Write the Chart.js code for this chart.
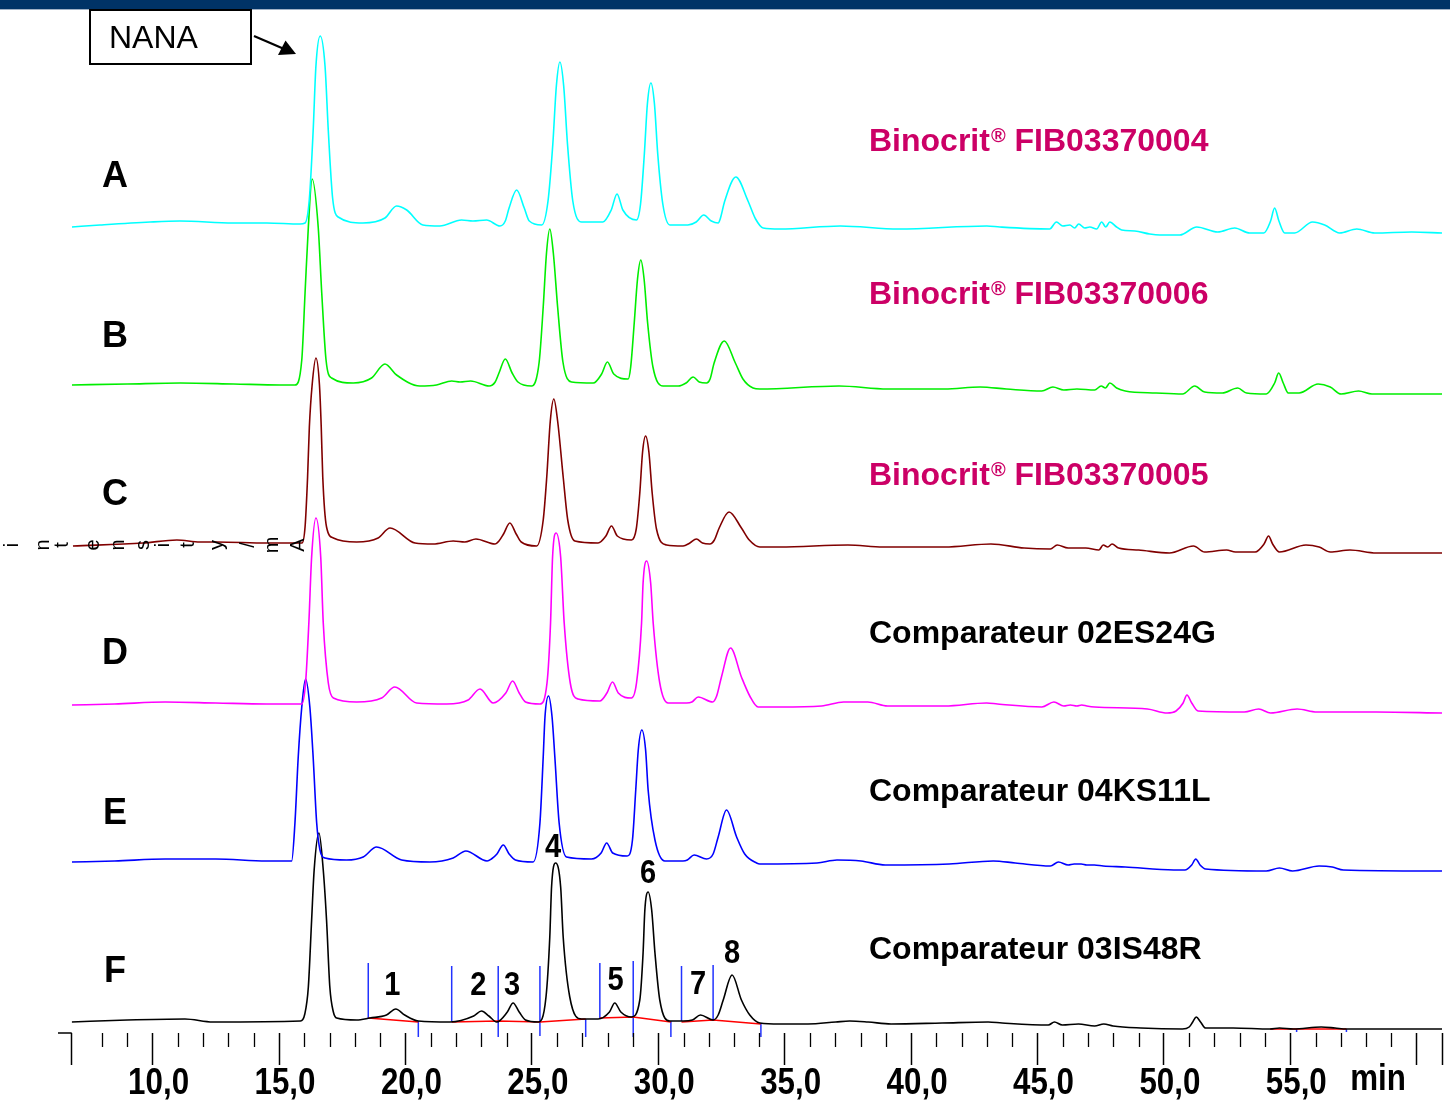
<!DOCTYPE html>
<html>
<head>
<meta charset="utf-8">
<script src="https://cdn.jsdelivr.net/npm/chart.js@4.4.1/dist/chart.umd.min.js"></script>
<style>
  html, body { margin: 0; padding: 0; background: #fff; }
  canvas { display: block; }
</style>
</head>
<body>
<canvas id="chroma" width="1450" height="1110"></canvas>
<script>
// retention time (min), signal above the trace's own baseline
const traceA = [[6.81,-1],[7.92,1],[9.90,4],[11.08,5],[13.18,3],[14.52,3],[15.83,2],[16.03,3],[16.20,27],[16.35,95],[16.46,160],[16.63,190],[16.82,160],[16.95,95],[17.12,28],[17.34,9],[18.32,3],[19.19,8],[19.65,20],[20.05,16],[20.69,1],[21.36,0],[22.22,6],[22.67,5],[23.21,6],[23.74,0],[23.95,5],[24.10,18],[24.40,36],[24.70,18],[24.90,5],[25.39,1],[25.64,25],[25.83,82],[25.97,140],[26.11,164],[26.26,140],[26.41,82],[26.62,25],[26.97,4],[27.81,4],[28.14,16],[28.37,32],[28.60,16],[29.14,6],[29.30,22],[29.45,72],[29.57,122],[29.71,143],[29.85,122],[29.98,72],[30.18,22],[30.46,1],[31.17,1],[31.50,4],[31.80,11],[32.10,5],[32.37,3],[32.45,7],[32.63,25],[33.07,49],[33.55,25],[33.85,7],[34.15,-2],[34.81,-3],[37.2,0],[39.5,-3],[43.0,0],[43.51,-1],[45.48,-3],[45.75,4],[46.00,0],[46.28,1],[46.47,-2],[46.63,2],[46.87,-2],[47.07,-1],[47.34,-3],[47.54,4],[47.70,-1],[47.86,4],[48.13,-1],[48.33,-4],[48.85,-5],[49.44,-8],[49.84,-9],[50.63,-9],[51.30,-1],[52.13,-6],[52.80,-2],[53.39,-7],[53.95,-7],[54.22,5],[54.38,18],[54.55,5],[54.78,-7],[55.17,-7],[55.88,4],[56.36,1],[56.95,-7],[57.63,-3],[58.34,-7],[59.80,-6],[61.0,-7]];

const traceB = [[6.81,1],[9.0,2],[11.1,3],[13.2,2],[15.04,1],[15.63,1],[15.90,26],[16.03,93],[16.16,159],[16.31,207],[16.55,159],[16.69,93],[16.86,26],[17.08,8],[17.94,3],[18.66,8],[19.19,22],[19.65,11],[20.57,0],[21.23,1],[21.83,5],[22.16,4],[22.58,5],[23.31,0],[23.55,4],[23.70,13],[23.95,27],[24.22,13],[24.45,4],[24.99,0],[25.29,24],[25.45,79],[25.58,133],[25.71,157],[25.85,133],[26.02,79],[26.23,24],[26.57,4],[27.43,3],[27.76,12],[27.99,24],[28.24,12],[28.81,7],[28.91,19],[29.05,63],[29.18,107],[29.31,126],[29.44,107],[29.58,63],[29.79,19],[30.19,0],[30.79,0],[31.10,3],[31.38,9],[31.62,4],[31.91,3],[32.05,7],[32.21,23],[32.61,45],[33.05,23],[33.35,7],[33.75,-2],[34.02,-3],[37.15,0],[39.07,-3],[41.33,-3],[42.73,-1],[43.77,-3],[45.17,-5],[45.61,-1],[46.04,-4],[46.56,-3],[47.26,-4],[47.52,0],[47.69,-2],[47.86,3],[48.13,-2],[48.47,-5],[49.69,-7],[50.74,-8],[51.22,0],[51.61,-6],[52.31,-7],[52.92,-2],[53.27,-7],[54.05,-8],[54.38,3],[54.54,13],[54.72,3],[54.92,-7],[55.35,-7],[56.10,2],[56.58,-1],[57.01,-8],[57.70,-5],[58.23,-8],[61.0,-8]];

const traceC = [[6.85,-1],[9.62,2],[10.96,5],[11.87,3],[12.55,3],[14.52,2],[15.91,2],[16.03,18],[16.13,68],[16.20,118],[16.31,160],[16.46,187],[16.60,160],[16.67,118],[16.73,68],[16.88,18],[17.15,7],[18.07,3],[18.92,7],[19.39,17],[20.38,2],[21.10,1],[21.89,4],[22.35,3],[22.79,6],[23.54,1],[23.70,4],[23.88,11],[24.13,22],[24.38,11],[24.58,3],[25.19,-1],[25.45,25],[25.59,68],[25.73,124],[25.87,146],[26.02,124],[26.24,68],[26.42,25],[26.70,4],[27.62,2],[27.93,9],[28.15,19],[28.38,9],[28.94,5],[29.13,16],[29.27,52],[29.38,93],[29.50,109],[29.63,93],[29.76,52],[29.93,16],[30.33,0],[30.98,-1],[31.25,2],[31.51,6],[31.75,2],[32.04,1],[32.22,5],[32.41,17],[32.80,33],[33.29,17],[33.60,5],[34.02,-2],[34.81,-2],[37.50,0],[38.89,-2],[41.33,-2],[43.16,1],[44.47,-3],[45.51,-4],[45.78,0],[46.21,-3],[46.91,-3],[47.43,-5],[47.60,0],[47.78,-2],[47.95,1],[48.21,-3],[49.00,-5],[50.22,-8],[51.17,-1],[51.61,-7],[52.48,-5],[52.83,-7],[53.61,-7],[53.96,1],[54.14,9],[54.30,1],[54.57,-7],[55.62,0],[56.14,-2],[56.58,-7],[57.36,-5],[58.40,-8],[61.0,-8]];

const traceD = [[6.81,0],[8.5,1],[10.5,3],[12.5,2],[14.5,1],[15.90,1],[16.05,22],[16.18,82],[16.29,148],[16.46,187],[16.65,148],[16.75,82],[16.95,22],[17.15,7],[18.07,3],[19.06,7],[19.58,18],[20.44,2],[21.63,1],[22.48,5],[22.95,16],[23.47,2],[23.97,12],[24.24,24],[24.50,12],[24.75,3],[25.32,1],[25.60,22],[25.74,82],[25.82,148],[25.96,172],[26.14,148],[26.28,82],[26.52,22],[26.83,6],[27.69,4],[27.97,12],[28.19,23],[28.42,12],[28.94,7],[29.14,22],[29.34,82],[29.40,122],[29.54,144],[29.70,122],[29.80,82],[30.06,22],[30.39,2],[31.12,2],[31.33,3],[31.58,8],[32.15,3],[32.31,9],[32.50,28],[32.86,57],[33.29,28],[33.62,9],[33.95,-2],[34.81,-2],[36.46,-1],[37.33,3],[38.29,3],[39.07,-1],[41.33,-1],[42.99,2],[43.42,1],[45.17,-2],[45.65,3],[46.04,-1],[46.30,0],[46.56,-1],[46.75,0],[46.95,-1],[47.26,-2],[49.35,-4],[50.13,-8],[50.48,-6],[50.76,2],[50.91,10],[51.10,2],[51.35,-6],[53.18,-7],[53.75,-4],[54.22,-8],[55.27,-4],[56.05,-7],[58.40,-7],[61.0,-8]];

const traceE = [[6.81,0],[8.5,1],[10.5,3],[12.5,3],[14.5,1],[15.50,1],[15.63,39],[15.76,105],[15.90,155],[16.05,183],[16.22,155],[16.35,105],[16.49,39],[16.62,12],[16.82,4],[17.67,2],[18.33,5],[18.86,15],[19.85,2],[20.97,0],[21.89,4],[22.39,11],[23.23,1],[23.40,3],[23.62,8],[23.87,17],[24.10,8],[24.35,2],[25.05,0],[25.32,39],[25.45,105],[25.52,145],[25.66,166],[25.80,145],[25.91,105],[26.08,39],[26.37,5],[27.36,3],[27.74,9],[27.96,19],[28.20,9],[28.77,6],[28.98,22],[29.11,72],[29.21,112],[29.35,132],[29.50,112],[29.60,72],[29.87,22],[30.26,1],[30.98,1],[31.15,2],[31.42,7],[31.91,3],[32.17,8],[32.37,25],[32.70,52],[33.10,25],[33.42,8],[33.89,-1],[34.02,-2],[36.28,-1],[37.07,2],[38.02,1],[38.98,-3],[41.51,-2],[43.25,1],[44.12,-1],[45.51,-4],[45.83,0],[46.21,-3],[46.45,-2],[46.73,-2],[46.95,-3],[47.25,-3],[47.60,-4],[48.47,-5],[50.39,-8],[50.83,-8],[51.10,-3],[51.26,3],[51.43,-3],[51.65,-7],[54.05,-9],[54.57,-6],[55.09,-9],[56.14,-4],[56.66,-5],[57.10,-8],[61.0,-9]];

const traceF = [[6.80,0],[9.0,2],[11.28,3],[12.38,0],[15.85,1],[16.02,8],[16.16,35],[16.29,102],[16.39,152],[16.58,189],[16.75,152],[16.88,102],[17.01,35],[17.15,10],[17.28,4],[18.07,2],[18.60,4],[19.25,7],[19.62,13],[19.97,7],[20.51,1],[21.76,0],[22.70,6],[23.01,11],[23.30,6],[23.61,0],[24.03,10],[24.26,19],[24.50,10],[24.75,2],[25.25,0],[25.56,25],[25.71,85],[25.78,135],[25.94,159],[26.14,135],[26.24,85],[26.50,25],[26.97,3],[27.62,3],[28.07,10],[28.28,19],[28.52,10],[28.94,5],[29.27,22],[29.40,69],[29.47,112],[29.60,130],[29.74,112],[29.87,69],[30.06,22],[30.46,1],[30.98,1],[31.35,2],[31.67,7],[32.17,2],[32.37,7],[32.57,22],[32.92,47],[33.29,22],[33.62,7],[34.02,-1],[34.81,-2],[35.92,-2],[37.02,0],[37.57,1],[38.30,0],[39.21,-2],[41.23,-1],[43.05,0],[43.60,-1],[45.43,-3],[45.67,0],[45.98,-3],[46.62,-2],[47.26,-4],[47.62,-2],[47.99,-4],[49.09,-6],[50.73,-7],[51.00,-5],[51.14,0],[51.28,5],[51.45,0],[51.65,-6],[52.74,-6],[54.20,-7],[54.57,-6],[55.12,-7],[56.22,-5],[56.77,-6],[57.22,-7],[61.0,-7]];

// integration of trace F: baseline segments and peak limits
const redSegments = [
  [[18.53,4],[20.51,0]],
  [[21.83,0],[23.67,1],[25.32,0],[27.13,3]],
  [[27.69,4],[29.01,5],[30.50,0]],
  [[30.92,0],[32.17,2],[34.06,-2]],
  [[54.20,-7],[57.22,-7]]
];
const markerTimes   = [18.53, 20.51, 21.83, 23.67, 25.32, 27.13, 27.69, 29.01, 30.50, 30.92, 32.17, 34.06, 55.25, 57.22];
const markerTops    = [59, 1, 56, 56, 56, 3, 59, 61, 1, 56, 57, -2, -7, -7];
const markerBottoms = [4, -15, 1, -15, -14, -15, 4, -15, -15, 1, 1, -15, -10, -10];

const peakNumbers = ['1','2','3','4','5','6','7','8'];
const peakLabelTimes = [19.48, 22.88, 24.22, 25.84, 28.31, 29.60, 31.58, 32.92];
const peakLabelHeights = [36, 36, 36, 174, 41, 148, 37, 68];

const traceLetters = ['A','B','C','D','E','F'];
const sampleNames = ['Binocrit® FIB03370004', 'Binocrit® FIB03370006', 'Binocrit® FIB03370005',
                     'Comparateur 02ES24G', 'Comparateur 04KS11L', 'Comparateur 03IS48R'];

// styling / stacking
const traceColors = ['#00FFFF', '#00EE00', '#800000', '#FF00FF', '#0000FF', '#000000'];
const traceOffsets = [807, 647, 488, 328, 171, 11];
const letterY = [177, 337, 495, 654, 814, 972];
const nameY = [142, 295, 476, 634, 792, 950];
const nameColors = ['#CC0066', '#CC0066', '#CC0066', '#000', '#000', '#000'];

const SANS = '"Liberation Sans", Arial, sans-serif';
const CONDENSE = 0.87;
const X_MIN = 6.8, X_MAX = 61.0;

function isMajor(v) {
  return Math.abs(v % 5) < 1e-6 || Math.abs(v - X_MIN) < 1e-6 || Math.abs(v - X_MAX) < 1e-6;
}
function tickText(v) {
  return (Math.abs(v % 5) < 1e-6 && v >= 10 && v <= 55) ? v.toFixed(1).replace('.', ',') : '';
}
function narrowText(c, txt, x, y, k) {
  c.save();
  c.translate(x, y);
  c.scale(k, 1);
  c.fillText(txt, 0, 0);
  c.restore();
}

const datasets = [];
const offF = traceOffsets[5];
[traceA, traceB, traceC, traceD, traceE, traceF].forEach((tr, i) => {
  datasets.push({
    label: traceLetters[i],
    data: tr.map(p => ({x: p[0], y: p[1] + traceOffsets[i]})),
    borderColor: traceColors[i],
    borderWidth: 1.6,
    pointRadius: 0,
    cubicInterpolationMode: 'monotone',
    fill: false
  });
});

let redData = [];
redSegments.forEach((seg, k) => {
  seg.forEach(p => redData.push({x: p[0], y: p[1] + offF}));
  if (k < redSegments.length - 1) redData.push({x: seg[seg.length - 1][0] + 0.01, y: null});
});
datasets.push({ label: 'baseline', data: redData, borderColor: '#FF0000', borderWidth: 1.3, pointRadius: 0, spanGaps: false, clip: false });

let markData = [];
markerTimes.forEach((t, k) => {
  markData.push({x: t, y: markerTops[k] + offF});
  markData.push({x: t, y: markerBottoms[k] + offF});
  markData.push({x: t, y: null});
});
datasets.push({ label: 'limits', data: markData, borderColor: '#2233FF', borderWidth: 1.5, pointRadius: 0, spanGaps: false, clip: false });

const decor = {
  id: 'decor',
  beforeDraw(chart) {
    const c = chart.ctx;
    c.save();
    c.fillStyle = '#fff';
    c.fillRect(0, 0, chart.width, chart.height);
    c.fillStyle = '#003366';
    c.fillRect(0, 0, chart.width, 9);
    c.fillStyle = '#9fb0c4';
    c.fillRect(0, 9, chart.width, 1);
    c.restore();
  },
  afterDraw(chart) {
    const c = chart.ctx, xs = chart.scales.x, ys = chart.scales.y, area = chart.chartArea;
    c.save();
    // minor ticks
    c.strokeStyle = '#000';
    c.lineWidth = 1.3;
    xs.ticks.forEach(tk => {
      if (isMajor(tk.value)) return;
      const px = Math.round(xs.getPixelForValue(tk.value)) + 0.5;
      c.beginPath(); c.moveTo(px, area.bottom); c.lineTo(px, area.bottom + 14); c.stroke();
    });
    c.lineWidth = 1.5;
    c.beginPath(); c.moveTo(58, area.bottom); c.lineTo(area.left, area.bottom); c.stroke();

    // condensed time labels
    c.fillStyle = '#000';
    c.textBaseline = 'middle';
    c.textAlign = 'center';
    c.font = 'bold 36px ' + SANS;
    xs.ticks.forEach(tk => {
      const s = tickText(tk.value);
      if (s) narrowText(c, s, xs.getPixelForValue(tk.value) + 6, area.bottom + 51, CONDENSE);
    });
    narrowText(c, 'min', 1378, 1080, CONDENSE);

    // trace letters
    c.font = 'bold 36px ' + SANS;
    traceLetters.forEach((l, i) => c.fillText(l, 115, letterY[i]));

    // peak numbers on F
    c.font = 'bold 33px ' + SANS;
    peakNumbers.forEach((n, i) => {
      narrowText(c, n, xs.getPixelForValue(peakLabelTimes[i]), ys.getPixelForValue(peakLabelHeights[i] + offF), 0.88);
    });

    // sample names
    c.textAlign = 'left';
    sampleNames.forEach((s, i) => {
      c.fillStyle = nameColors[i];
      const parts = s.split('®');
      let x = 869;
      c.font = 'bold 32px ' + SANS;
      c.fillText(parts[0], x, nameY[i]);
      if (parts.length > 1) {
        x += c.measureText(parts[0]).width + 1;
        c.font = 'bold 20px ' + SANS;
        c.fillText('®', x, nameY[i] - 6);
        x += c.measureText('®').width;
        c.font = 'bold 32px ' + SANS;
        c.fillText(parts[1], x, nameY[i]);
      }
    });

    // NANA callout
    c.fillStyle = '#000';
    c.strokeStyle = '#000';
    c.lineWidth = 2;
    c.strokeRect(90, 10, 161, 54);
    c.font = '32px ' + SANS;
    c.fillText('NANA', 109, 39);
    c.lineWidth = 2.2;
    c.beginPath(); c.moveTo(254, 36); c.lineTo(283, 48.5); c.stroke();
    c.beginPath(); c.moveTo(296, 54); c.lineTo(278, 55); c.lineTo(285.5, 40.5); c.closePath(); c.fill();

    // y title, glyph by glyph
    const yChars = ['i','n','t','e','n','s','i','t','y','/','m','A'];
    const yCharX = [12, 43, 62, 93, 118, 143, 163, 188, 217, 248, 272, 298];
    c.font = '20px ' + SANS;
    c.textAlign = 'center';
    yChars.forEach((ch, k) => {
      c.save();
      c.translate(yCharX[k], 545);
      c.rotate(-Math.PI / 2);
      c.fillText(ch, 0, 0);
      c.restore();
    });
    c.restore();
  }
};

new Chart(document.getElementById('chroma'), {
  type: 'line',
  data: { datasets: datasets },
  options: {
    responsive: false,
    animation: false,
    devicePixelRatio: 1,
    events: [],
    layout: { padding: { left: 71.7, right: 8, top: 10, bottom: 5 } },
    plugins: { legend: { display: false }, tooltip: { enabled: false } },
    scales: {
      x: {
        type: 'linear',
        min: X_MIN,
        max: X_MAX,
        border: { display: false },
        grid: {
          display: true,
          drawOnChartArea: false,
          drawTicks: true,
          tickLength: 32,
          tickWidth: 1.5,
          tickColor: ctx => (ctx.tick && isMajor(ctx.tick.value)) ? '#000' : 'rgba(0,0,0,0)'
        },
        ticks: {
          stepSize: 1,
          autoSkip: false,
          maxRotation: 0,
          minRotation: 0,
          padding: 2,
          labelOffset: 6,
          color: 'rgba(0,0,0,0)',
          font: { family: SANS, size: 36, weight: 'bold', lineHeight: 1 },
          callback: v => tickText(v)
        }
      },
      y: { type: 'linear', display: false, min: 0, max: 1023 }
    }
  },
  plugins: [decor]
});
</script>
</body>
</html>
